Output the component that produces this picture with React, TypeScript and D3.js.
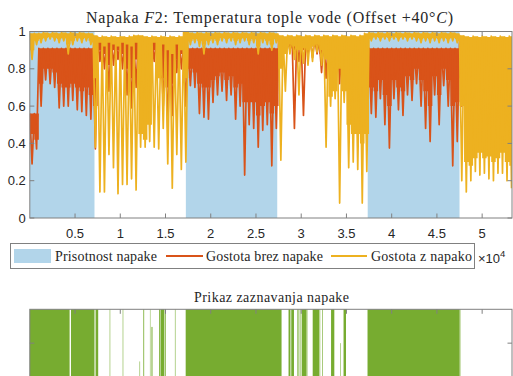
import { useEffect, useRef } from "react";
import * as d3 from "d3";

// samples per bin: each bin keeps top, solid-body level and lowest dip of the dense signal
const BIN = 500;

// fault presence (blue area), [start, end] in samples
const faultSpans = [
  [0, 7150],
  [17250, 27350],
  [37350, 47500],
];

// "Gostota z napako" (yellow) per bin
const withFaultHi = [
  0.99, 0.99, 0.99, 0.995, 0.99, 0.995, 0.99, 0.995, 0.99, 0.995, 0.99, 0.995, 0.99, 0.99, 0.98,
  0.97, 0.975, 0.97, 0.975, 0.97, 0.975, 0.97, 0.975, 0.98, 0.98, 0.975, 0.97, 0.975, 0.97, 0.975,
  0.97, 0.975, 0.97, 0.975, 1.0, 0.995, 0.99, 0.995, 0.99, 0.995, 0.99, 0.995, 0.99, 0.995, 0.99,
  0.995, 0.99, 0.995, 0.99, 0.995, 0.99, 0.995, 0.99, 0.995, 0.99, 0.98, 0.975, 0.98, 0.975, 0.98,
  0.975, 0.98, 0.975, 0.98, 0.975, 0.98, 0.975, 0.98, 0.975, 0.98, 0.975, 0.98, 0.975, 0.98, 0.99,
  0.995, 0.99, 0.995, 0.99, 0.995, 0.99, 0.995, 0.99, 0.995, 0.99, 0.995, 0.99, 0.995, 0.99, 0.995,
  0.99, 0.995, 0.99, 0.995, 0.99, 0.98, 0.975, 0.97, 0.975, 0.97, 0.975, 0.97, 0.975, 0.97, 0.975,
  0.97, 0.975,
];
const withFaultBody = [
  0.9, 0.95, 0.96, 0.965, 0.97, 0.965, 0.96, 0.965, 0.93, 0.95, 0.965, 0.96, 0.965, 0.95, 0.75,
  0.94, 0.92, 0.94, 0.93, 0.92, 0.94, 0.93, 0.92, 0.94, 0.45, 0.42, 0.5, 0.94, 0.75, 0.93,
  0.9, 0.88, 0.93, 0.9, 0.75, 0.95, 0.96, 0.95, 0.93, 0.95, 0.96, 0.95, 0.965, 0.96, 0.965,
  0.95, 0.96, 0.965, 0.95, 0.96, 0.92, 0.96, 0.95, 0.93, 0.96, 0.8, 0.88, 0.93, 0.92, 0.9,
  0.91, 0.9, 0.92, 0.93, 0.9, 0.85, 0.65, 0.68, 0.8, 0.68, 0.5, 0.45, 0.45, 0.4, 0.45,
  0.965, 0.97, 0.965, 0.97, 0.965, 0.97, 0.965, 0.97, 0.965, 0.97, 0.965, 0.96, 0.965, 0.96, 0.965,
  0.96, 0.965, 0.96, 0.965, 0.96, 0.6, 0.3, 0.28, 0.32, 0.35, 0.32, 0.33, 0.3, 0.32, 0.35,
  0.3, 0.28,
];
const withFaultLo = [
  0.85, 0.93, 0.94, 0.95, 0.96, 0.95, 0.94, 0.95, 0.88, 0.93, 0.95, 0.94, 0.95, 0.93, 0.38,
  0.14, 0.14, 0.34, 0.27, 0.13, 0.18, 0.18, 0.21, 0.15, 0.38, 0.38, 0.41, 0.38, 0.37, 0.48,
  0.29, 0.16, 0.34, 0.26, 0.3, 0.93, 0.94, 0.92, 0.88, 0.93, 0.94, 0.93, 0.95, 0.94, 0.95,
  0.93, 0.94, 0.95, 0.93, 0.94, 0.88, 0.94, 0.93, 0.9, 0.94, 0.31, 0.68, 0.88, 0.85, 0.66,
  0.83, 0.82, 0.84, 0.89, 0.82, 0.38, 0.6, 0.64, 0.08, 0.62, 0.27, 0.3, 0.26, 0.08, 0.25,
  0.95, 0.96, 0.95, 0.96, 0.95, 0.96, 0.95, 0.96, 0.95, 0.96, 0.95, 0.94, 0.95, 0.94, 0.95,
  0.94, 0.95, 0.94, 0.95, 0.94, 0.2, 0.14, 0.2, 0.25, 0.23, 0.24, 0.21, 0.2, 0.24, 0.24,
  0.2, 0.16,
];

// "Gostota brez napake" (red) per bin
const noFaultHi = [
  0.56, 0.56, 0.91, 0.91, 0.91, 0.91, 0.91, 0.91, 0.91, 0.91, 0.91, 0.91, 0.91, 0.91, 0.91,
  0.97, 0.96, 0.95, 0.96, 0.96, 0.95, 0.96, 0.96, 0.95, 0.96, 0.96, 0.95, 0.96, 0.96, 0.95,
  0.95, 0.96, 0.95, 0.96, 0.93, 0.91, 0.91, 0.91, 0.91, 0.91, 0.91, 0.91, 0.91, 0.91, 0.91,
  0.91, 0.91, 0.91, 0.91, 0.91, 0.91, 0.91, 0.91, 0.91, 0.91, 0.97, 0.96, 0.96, 0.95, 0.96,
  0.95, 0.96, 0.96, 0.96, 0.95, 0.96, 0.95, 0.96, 0.96, 0.95, 0.96, 0.96, 0.95, 0.96, 0.93,
  0.91, 0.91, 0.91, 0.91, 0.91, 0.91, 0.91, 0.91, 0.91, 0.91, 0.91, 0.91, 0.91, 0.91, 0.91,
  0.91, 0.91, 0.91, 0.91, 0.91, 0.94, 0.96, 0.95, 0.96, 0.95, 0.96, 0.95, 0.96, 0.95, 0.96,
  0.95, 0.96,
];
const noFaultBody = [
  0.45, 0.42, 0.72, 0.8, 0.8, 0.78, 0.72, 0.7, 0.7, 0.72, 0.7, 0.68, 0.7, 0.66, 0.6,
  0.9, 0.88, 0.82, 0.9, 0.9, 0.88, 0.8, 0.75, 0.85, 0.88, 0.9, 0.9, 0.9, 0.88, 0.75,
  0.7, 0.72, 0.85, 0.88, 0.75, 0.8, 0.78, 0.72, 0.7, 0.7, 0.74, 0.76, 0.78, 0.74, 0.76,
  0.7, 0.72, 0.62, 0.62, 0.62, 0.55, 0.6, 0.62, 0.56, 0.6, 0.93, 0.93, 0.92, 0.9, 0.9,
  0.9, 0.92, 0.92, 0.92, 0.88, 0.86, 0.84, 0.84, 0.84, 0.86, 0.86, 0.88, 0.7, 0.72, 0.75,
  0.7, 0.68, 0.74, 0.66, 0.6, 0.74, 0.7, 0.68, 0.76, 0.74, 0.8, 0.74, 0.68, 0.6, 0.76,
  0.66, 0.8, 0.74, 0.6, 0.62, 0.75, 0.9, 0.88, 0.9, 0.85, 0.9, 0.86, 0.9, 0.9, 0.92,
  0.88, 0.9,
];
const noFaultLo = [
  0.29, 0.37, 0.6, 0.74, 0.72, 0.7, 0.59, 0.6, 0.6, 0.63, 0.58, 0.57, 0.55, 0.53, 0.37,
  0.84, 0.8, 0.68, 0.82, 0.85, 0.8, 0.66, 0.59, 0.7, 0.75, 0.8, 0.84, 0.84, 0.82, 0.6,
  0.48, 0.55, 0.78, 0.8, 0.6, 0.71, 0.7, 0.56, 0.54, 0.53, 0.62, 0.66, 0.68, 0.63, 0.66,
  0.53, 0.6, 0.23, 0.5, 0.48, 0.38, 0.47, 0.5, 0.28, 0.48, 0.9, 0.91, 0.9, 0.48, 0.84,
  0.55, 0.88, 0.86, 0.88, 0.78, 0.75, 0.72, 0.7, 0.72, 0.79, 0.8, 0.82, 0.45, 0.5, 0.6,
  0.56, 0.54, 0.64, 0.5, 0.375, 0.64, 0.58, 0.55, 0.66, 0.63, 0.72, 0.6, 0.48, 0.41, 0.66,
  0.5, 0.71, 0.6, 0.28, 0.41, 0.6, 0.85, 0.78, 0.8, 0.66, 0.8, 0.7, 0.78, 0.82, 0.85,
  0.75, 0.8,
];

// detection bars, [start, end, height]
const detection = [
  [0, 4400, 1], [4550, 7150, 1], [7270, 7560, 1], [8830, 8890, 1], [10270, 10330, 1],
  [12130, 12190, 0.23], [12550, 12640, 1], [13280, 13330, 1], [13450, 13560, 0.74],
  [14300, 14450, 1], [14500, 14880, 1], [14960, 15040, 1], [16040, 16100, 1],
  [17230, 27800, 1], [27830, 27870, 1], [28600, 28760, 1], [28800, 28850, 1],
  [28900, 29200, 1], [29580, 29700, 1], [29750, 29790, 1], [29880, 29930, 1],
  [30050, 30600, 1], [30680, 30720, 1], [31270, 32010, 1], [32060, 32100, 1],
  [32330, 32400, 1], [33300, 33660, 1], [34300, 34360, 0.5], [34680, 34950, 1],
  [37330, 47520, 1], [47560, 47600, 1],
];

const xTicks = [5000, 10000, 15000, 20000, 25000, 30000, 35000, 40000, 45000, 50000];
const xTickLabels = ["0.5", "1", "1.5", "2", "2.5", "3", "3.5", "4", "4.5", "5"];
const yTicks = [0, 0.2, 0.4, 0.6, 0.8, 1];
const yTickLabels = ["0", "0.2", "0.4", "0.6", "0.8", "1"];
const X_MAX = 53300;

const BLUE = "#b2d5ea";
const RED = "#d95319";
const YELLOW = "#edb120";
const GREEN = "#77ac30";
const AXIS = "#808080";
const TEXT = "#262626";
const SERIF = "'Liberation Serif', 'DejaVu Serif', serif";
const SANS = "'Liberation Sans', Arial, sans-serif";

// stretch a serif label to the width the LaTeX text takes in the figure
function fitWidth(sel: d3.Selection<SVGTextElement, unknown, null, undefined>, target: number) {
  const node = sel.node();
  if (!node) return;
  const w = node.getComputedTextLength();
  const n = (node.textContent || "").length;
  if (n > 1) sel.style("letter-spacing", `${(target - w) / (n - 1)}px`);
}

function App() {
  const svgRef = useRef<SVGSVGElement>(null);

  useEffect(() => {
    const svg = d3.select(svgRef.current);
    svg.selectAll("*").remove();

    const left = 29.8, right = 512;
    const top = 31.5, bottom = 218;

    const x = d3.scaleLinear().domain([0, X_MAX]).range([left, right]);
    const y = d3.scaleLinear().domain([0, 1]).range([bottom, top]);

    svg.append("defs").append("clipPath").attr("id", "plotClip")
      .append("rect").attr("x", left).attr("y", top)
      .attr("width", right - left).attr("height", bottom - top);

    const plot = svg.append("g").attr("clip-path", "url(#plotClip)");

    // fault presence
    plot.selectAll(".fault")
      .data(faultSpans)
      .enter()
      .append("rect")
      .attr("x", d => x(d[0]))
      .attr("width", d => x(d[1]) - x(d[0]))
      .attr("y", y(1))
      .attr("height", y(0) - y(1))
      .attr("fill", BLUE);

    // solid part of each bin
    type Bin = { s: number; hi: number; body: number };
    const bins = (hi: number[], body: number[]) => {
      const out: Bin[] = hi.map((h, i) => ({ s: i * BIN, hi: h, body: body[i] }));
      const last = out[out.length - 1];
      out.push({ s: hi.length * BIN, hi: last.hi, body: last.body });
      return out;
    };
    const band = d3.area<Bin>()
      .curve(d3.curveStepAfter)
      .x(d => x(d.s))
      .y0(d => y(d.body))
      .y1(d => y(d.hi));

    // dips: alternate between bin top and bin minimum
    const zigzag = (hi: number[], lo: number[]) => {
      const pts: [number, number][] = [];
      hi.forEach((h, i) => {
        pts.push([i * BIN, h]);
        pts.push([i * BIN + BIN / 2, lo[i]]);
      });
      return pts;
    };
    const line = d3.line<[number, number]>()
      .x(d => x(d[0]))
      .y(d => y(d[1]));

    const series: [number[], number[], number[], string][] = [
      [noFaultHi, noFaultBody, noFaultLo, RED],
      [withFaultHi, withFaultBody, withFaultLo, YELLOW],
    ];
    series.forEach(([hi, body, lo, color]) => {
      plot.append("path")
        .attr("d", band(bins(hi, body)))
        .attr("fill", color);
      plot.append("path")
        .attr("d", line(zigzag(hi, lo)))
        .attr("fill", "none")
        .attr("stroke", color)
        .attr("stroke-width", 1.7)
        .attr("stroke-linejoin", "round");
    });

    // frame and ticks
    const frame = (t: number, b: number) => {
      svg.append("rect")
        .attr("x", left).attr("y", t)
        .attr("width", right - left).attr("height", b - t)
        .attr("fill", "none").attr("stroke", AXIS).attr("stroke-width", 1);
    };
    frame(top, bottom);

    const ticks = svg.append("g").attr("stroke", AXIS).attr("stroke-width", 1);
    xTicks.forEach(t => {
      ticks.append("line").attr("x1", x(t)).attr("x2", x(t)).attr("y1", bottom).attr("y2", bottom - 4.5);
      ticks.append("line").attr("x1", x(t)).attr("x2", x(t)).attr("y1", top).attr("y2", top + 4.5);
    });
    yTicks.forEach(t => {
      ticks.append("line").attr("x1", left).attr("x2", left + 4.5).attr("y1", y(t)).attr("y2", y(t));
      ticks.append("line").attr("x1", right).attr("x2", right - 4.5).attr("y1", y(t)).attr("y2", y(t));
    });

    svg.append("g").selectAll("text")
      .data(xTicks)
      .enter()
      .append("text")
      .attr("x", d => x(d))
      .attr("y", 238)
      .attr("text-anchor", "middle")
      .attr("font-family", SANS)
      .attr("font-size", 13)
      .attr("fill", TEXT)
      .text((_, i) => xTickLabels[i]);

    svg.append("g").selectAll("text")
      .data(yTicks)
      .enter()
      .append("text")
      .attr("x", left - 4)
      .attr("y", d => y(d) + 4.5)
      .attr("text-anchor", "end")
      .attr("font-family", SANS)
      .attr("font-size", 13)
      .attr("fill", TEXT)
      .text((_, i) => yTickLabels[i]);

    // exponent
    const exp = svg.append("text")
      .attr("x", 478).attr("y", 263)
      .attr("font-family", SANS).attr("font-size", 13).attr("fill", TEXT);
    exp.append("tspan").text("×10");
    exp.append("tspan").attr("font-size", 9.5).attr("dy", -6).text("4");

    // title
    const title = svg.append("text")
      .attr("x", 86).attr("y", 23)
      .attr("font-family", SERIF).attr("font-size", 16)
      .attr("fill", TEXT);
    title.append("tspan").text("Napaka ");
    title.append("tspan").attr("font-style", "italic").text("F");
    title.append("tspan").text("2: Temperatura tople vode (Offset +40°");
    title.append("tspan").attr("font-style", "italic").text("C");
    title.append("tspan").text(")");
    fitWidth(title, 367);

    // legend
    const lg = svg.append("g");
    lg.append("rect").attr("x", 10.5).attr("y", 243.5).attr("width", 464).attr("height", 25)
      .attr("fill", "white").attr("stroke", AXIS);
    lg.append("rect").attr("x", 14).attr("y", 249).attr("width", 37).attr("height", 14).attr("fill", BLUE);
    lg.append("line").attr("x1", 166).attr("x2", 203).attr("y1", 256).attr("y2", 256)
      .attr("stroke", RED).attr("stroke-width", 2);
    lg.append("line").attr("x1", 331).attr("x2", 367).attr("y1", 256).attr("y2", 256)
      .attr("stroke", YELLOW).attr("stroke-width", 2);
    const legendItems: [number, number, string][] = [
      [55, 102, "Prisotnost napake"],
      [206, 117, "Gostota brez napake"],
      [371, 101, "Gostota z napako"],
    ];
    legendItems.forEach(([lx, lw, label]) => {
      const t = lg.append("text").attr("x", lx).attr("y", 260.5)
        .attr("font-family", SERIF).attr("font-size", 14)
        .attr("fill", TEXT).text(label);
      fitWidth(t, lw);
    });

    // bottom plot: detection
    const top2 = 309.3, bottom2 = 377;
    const y2 = d3.scaleLinear().domain([0, 1]).range([bottom2, top2]);

    svg.append("g").selectAll("rect")
      .data(detection)
      .enter()
      .append("rect")
      .attr("x", d => x(d[0]))
      .attr("width", d => x(d[1]) - x(d[0]))
      .attr("y", d => y2(d[2]))
      .attr("height", d => y2(0) - y2(d[2]))
      .attr("fill", GREEN);

    frame(top2, bottom2);
    const ticks2 = svg.append("g").attr("stroke", AXIS).attr("stroke-width", 1);
    xTicks.forEach(t => {
      ticks2.append("line").attr("x1", x(t)).attr("x2", x(t)).attr("y1", top2).attr("y2", top2 + 4.5);
    });
    [0.5].forEach(t => {
      ticks2.append("line").attr("x1", left).attr("x2", left + 4.5).attr("y1", y2(t)).attr("y2", y2(t));
      ticks2.append("line").attr("x1", right).attr("x2", right - 4.5).attr("y1", y2(t)).attr("y2", y2(t));
    });

    const sub = svg.append("text")
      .attr("x", 194).attr("y", 302)
      .attr("font-family", SERIF).attr("font-size", 14)
      .attr("fill", TEXT)
      .text("Prikaz zaznavanja napake");
    fitWidth(sub, 155);
  }, []);

  return (
    <svg
      ref={svgRef}
      width={513}
      height={376}
      style={{ position: "absolute", left: 0, top: 0, background: "white" }}
    />
  );
}

export default App;
